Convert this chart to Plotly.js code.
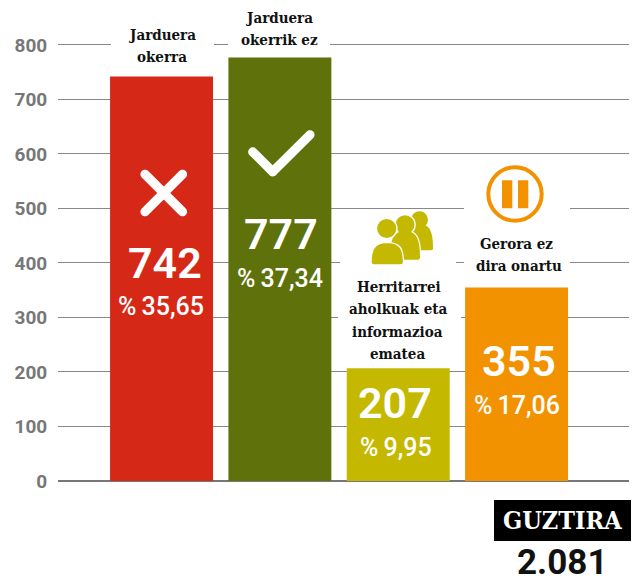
<!DOCTYPE html>
<html>
<head>
<meta charset="utf-8">
<script src="https://cdn.plot.ly/plotly-3.0.1.min.js"></script>
<style>html,body{margin:0;padding:0;background:#fff}</style>
</head>
<body>
<div id="chart" style="width:634px;height:583px"></div>
<script>
const categories = ["Jarduera okerra", "Jarduera okerrik ez", "Herritarrei aholkuak eta informazioa ematea", "Gerora ez dira onartu"];
const values = [742, 777, 207, 355];
const percents = ["%\u200935,65", "%\u200937,34", "%\u20099,95", "%\u200917,06"];
const barColors = ["#D62817", "#5F710A", "#C4B900", "#F39200"];
const tickVals = [0, 100, 200, 300, 400, 500, 600, 700, 800];
const totalLabel = "GUZTIRA";
const totalValue = "2.081";

const L = 58, R = 629, T = 33.6, B = 481, W = 634, H = 583;
const fx = p => (p - L) / (R - L);
const fy = p => (B - p) / (B - T);
const SERIF = '"DejaVu Serif Condensed", "DejaVu Serif", serif';
const SANS = 'Roboto, "Noto Sans", sans-serif';

const annotations = [];
function label(x, y, text, size, color, family, weight, height) {
  const a = {xref:'paper', yref:'paper', x:fx(x), y:fy(y), text, showarrow:false,
    xanchor:'center', yanchor:'middle', font:{size, color, family, weight:weight||700}, borderpad:0};
  if (height) a.height = height;
  annotations.push(a);
}
const shapes = [];
function rect(x0,y0,x1,y1,color){
  shapes.push({type:'rect', layer:'above', xref:'paper', yref:'paper', x0:fx(x0), x1:fx(x1), y0:fy(y1), y1:fy(y0), fillcolor:color, line:{width:0}});
}
function pathShape(pts, color, line){
  shapes.push({type:'path', layer:'above', xref:'paper', yref:'paper', path:pts, fillcolor:color, line:line||{width:0}});
}
const P = (x,y) => fx(x).toFixed(5)+','+fy(y).toFixed(5);
function capsule(x1,y1,x2,y2,r){
  const d = Math.hypot(x2-x1,y2-y1), ux=(x2-x1)/d, uy=(y2-y1)/d, nx=-uy*r, ny=ux*r, ex=ux*r, ey=uy*r, k=0.5523;
  pathShape('M'+P(x1+nx,y1+ny)+' L'+P(x2+nx,y2+ny)+
    ' C'+P(x2+nx+ex*k,y2+ny+ey*k)+' '+P(x2+ex+nx*k,y2+ey+ny*k)+' '+P(x2+ex,y2+ey)+
    ' C'+P(x2+ex-nx*k,y2+ey-ny*k)+' '+P(x2-nx+ex*k,y2-ny+ey*k)+' '+P(x2-nx,y2-ny)+
    ' L'+P(x1-nx,y1-ny)+
    ' C'+P(x1-nx-ex*k,y1-ny-ey*k)+' '+P(x1-ex-nx*k,y1-ey-ny*k)+' '+P(x1-ex,y1-ey)+
    ' C'+P(x1-ex+nx*k,y1-ey+ny*k)+' '+P(x1+nx-ex*k,y1+ny-ey*k)+' '+P(x1+nx,y1+ny)+' Z', '#fff');
}
function circle(cx,cy,r,fill,line){
  shapes.push({type:'circle', layer:'above', xref:'paper', yref:'paper', x0:fx(cx-r), x1:fx(cx+r), y0:fy(cy+r), y1:fy(cy-r), fillcolor:fill, line:line||{width:0}});
}
function person(cx, headY, headR, bodyL, bodyR, bodyT, bodyB, color){
  const w = {color:'#fff', width:2.6};
  const mid = (bodyL+bodyR)/2, h = bodyB-bodyT, bw = bodyR-bodyL;
  const body = 'M'+P(bodyL,bodyB-2)+' C'+P(bodyL,bodyT+h*0.15)+' '+P(mid-bw*0.32,bodyT)+' '+P(mid,bodyT)+
    ' C'+P(mid+bw*0.32,bodyT)+' '+P(bodyR,bodyT+h*0.15)+' '+P(bodyR,bodyB-2)+
    ' Q'+P(bodyR,bodyB)+' '+P(bodyR-2,bodyB)+' L'+P(bodyL+2,bodyB)+' Q'+P(bodyL,bodyB)+' '+P(bodyL,bodyB-2)+' Z';
  pathShape(body, '#fff', w);
  circle(cx, headY, headR, '#fff', w);
  pathShape(body, color);
  circle(cx, headY, headR, color);
}

// white gaps cut into the gridlines behind the labels
rect(111,18,214,75,'#fff');
rect(228,6,330,56,'#fff');
rect(464,160,570,285,'#fff');
rect(340,214,456,300,'#fff');
rect(338,300,461,367,'#fff');

// icons
capsule(145,174,182.5,211.5,4.6);
capsule(182.5,174,145,211.5,4.6);
capsule(252.8,151.6,272.7,171.5,4.6);
capsule(272.7,171.5,310,134.5,4.6);
circle(515,193.7,26.7,'rgba(0,0,0,0)',{color:barColors[3],width:4});
rect(502,180,512.3,208,barColors[3]);
rect(518,180,528.3,208,barColors[3]);
person(419.5,219.5,8.5,405,433,224,250,barColors[2]);
person(405,224.5,9.5,390,420,231,259.5,barColors[2]);
person(386.7,228.3,9.6,371.7,402.8,243,264,barColors[2]);

// total box
rect(494,500,631,541,'#000');

// labels
const lab = (x,y,t) => label(x,y,t,15,'#111',SERIF);
lab(162,35,'Jarduera'); lab(162,57,'okerra');
lab(279.5,18,'Jarduera'); lab(279.5,40,'okerrik ez');
lab(398.5,287,'Herritarrei'); lab(398,309,'aholkuak eta'); lab(397.5,332,'informazioa'); lab(397,354,'ematea');
lab(516.5,244,'Gerora ez'); lab(519,266,'dira onartu');

const numPos = [[165,263],[280.5,234],[395,403],[519,361]];
const pctPos = [[161,306],[280,278],[396,447],[517,405]];
values.forEach((v,i)=>{
  label(numPos[i][0],numPos[i][1],String(v),43,'#fff',SANS,600);
  label(pctPos[i][0],pctPos[i][1],percents[i],25,'#fff',SANS,500);
});
label(562.5,521,totalLabel,25,'#fff',SERIF);
label(562,562.5,totalValue,35,'#111',SANS,700,36);

const trace = {type:'bar', x:categories, y:values, width:0.87, marker:{color:barColors, line:{width:0}}, hoverinfo:'skip', showlegend:false};
const layout = {
  width:W, height:H, paper_bgcolor:'#fff', plot_bgcolor:'#fff', showlegend:false,
  margin:{l:L, r:W-R, t:T, b:H-B, pad:0},
  xaxis:{type:'category', categoryorder:'array', categoryarray:categories, range:[-0.875,3.95], showticklabels:false, ticks:'', showgrid:false, zeroline:false, showline:false, fixedrange:true},
  yaxis:{range:[0,820], tickmode:'array', tickvals:tickVals, ticktext:tickVals.map(String), showgrid:true, gridcolor:'#888', gridwidth:1,
    zeroline:true, zerolinecolor:'#777', zerolinewidth:2, showline:false, ticks:'outside', ticklen:6, tickcolor:'rgba(0,0,0,0)', ticklabelshift:1.5,
    tickfont:{family:SANS, size:19, color:'#777', weight:700}, fixedrange:true},
  annotations, shapes
};
Plotly.newPlot('chart',[trace],layout,{displayModeBar:false,staticPlot:true});
</script>
</body>
</html>
